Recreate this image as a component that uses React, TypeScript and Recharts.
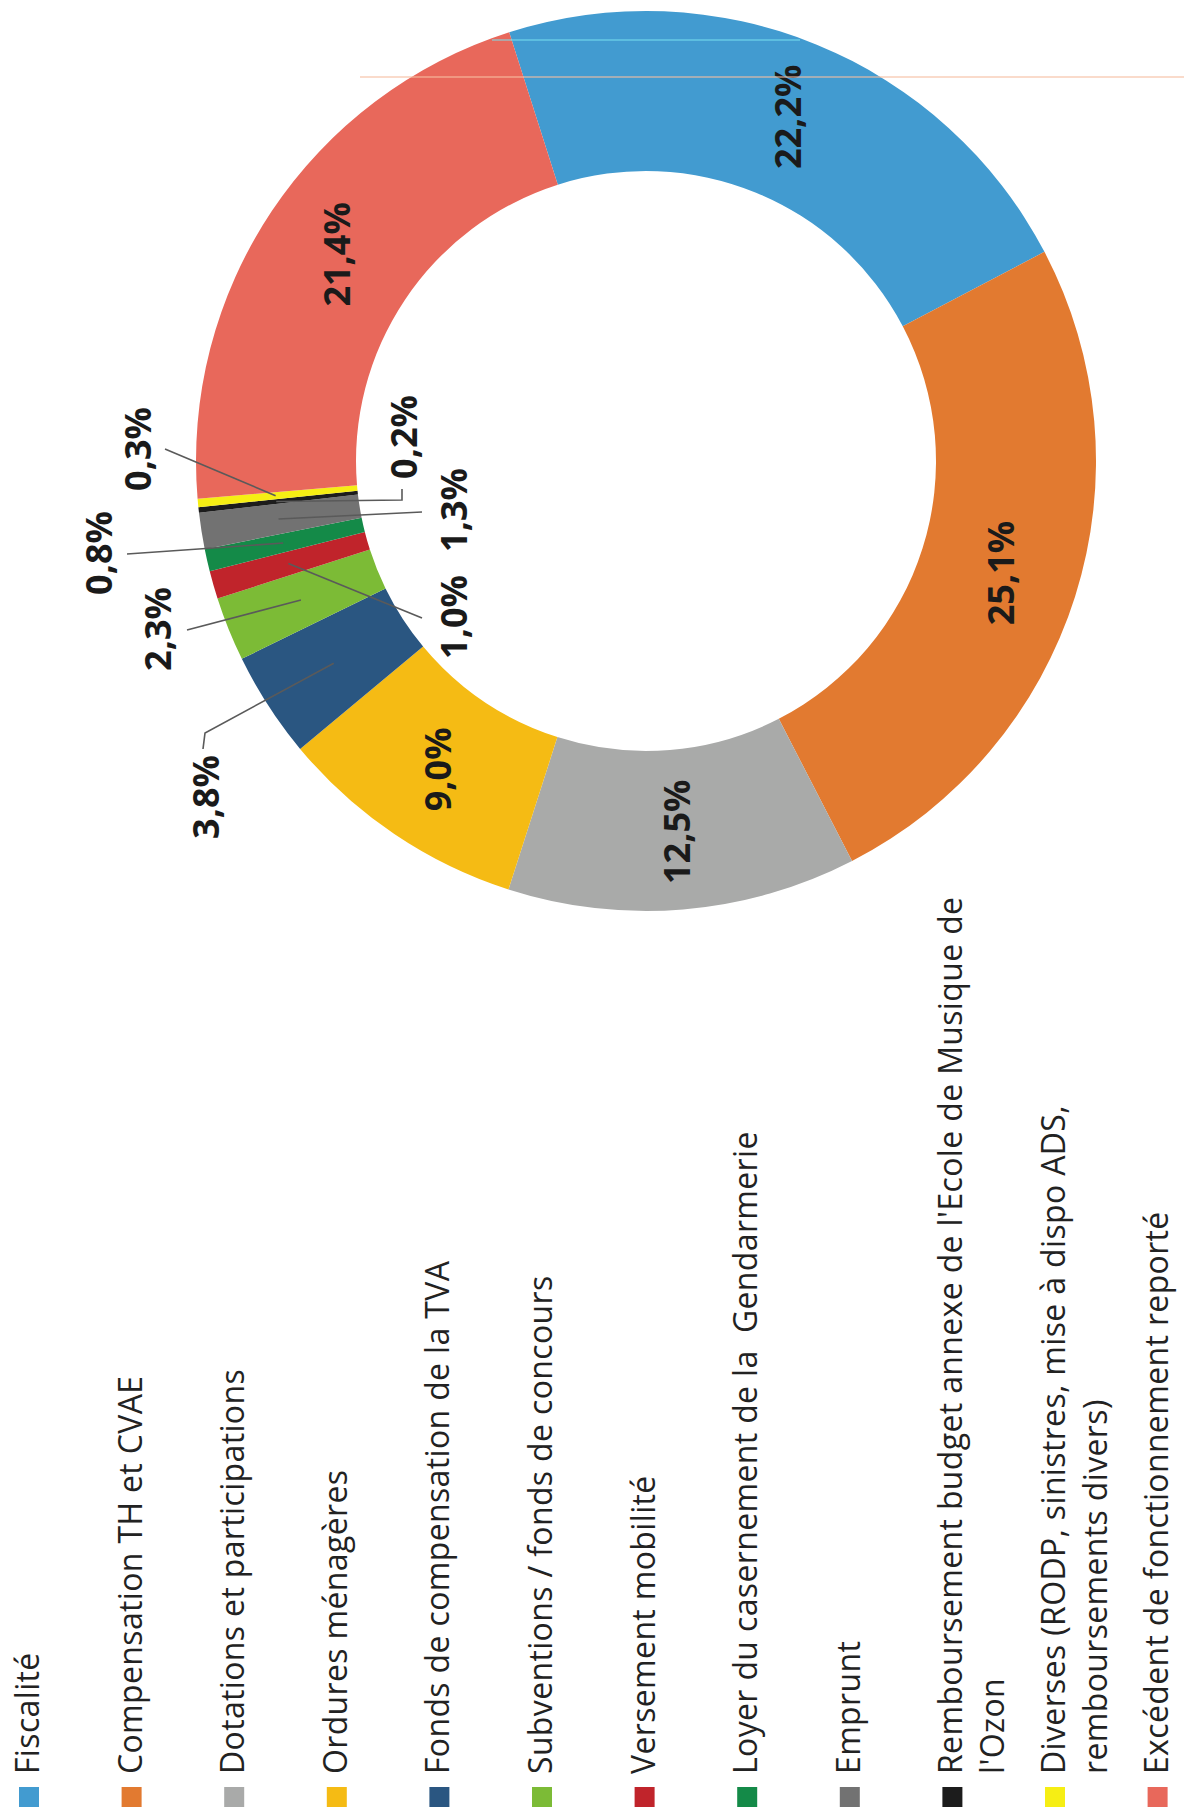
import React from 'react';
import { PieChart, Pie, Cell, Legend } from 'recharts';

// ---- data ----
const categories: string[] = [
  'Fiscalité',
  'Compensation TH et CVAE',
  'Dotations et participations',
  'Ordures ménagères',
  'Fonds de compensation de la TVA',
  'Subventions / fonds de concours',
  'Versement mobilité',
  'Loyer du casernement de la  Gendarmerie',
  'Emprunt',
  "Remboursement budget annexe de l'Ecole de Musique de\nl'Ozon",
  'Diverses (RODP, sinistres, mise à dispo ADS,\nremboursements divers)',
  'Excédent de fonctionnement reporté',
];
const shares: number[] = [22.2, 25.1, 12.5, 9.0, 3.8, 2.3, 1.0, 0.8, 1.3, 0.2, 0.3, 21.4];

// ---- styles ----
const colors: string[] = [
  '#429bd0', '#e27a30', '#a9aaa9', '#f5bb14', '#2a5681', '#7cbb36',
  '#c0242b', '#148a48', '#727272', '#1c1c1c', '#f6ee14', '#e8685b',
];

// leader-line label layout for small slices (offsets from the pie centre)
type LabelLayout = { line: number[][]; text: number[] } | null;
const labelLayout: LabelLayout[] = [
  null, null, null, null,
  { line: [[-441, 272], [-443, 288]], text: [-441, 336] },
  { line: [[-459, 169]], text: [-489, 168] },
  { line: [[-224, 157]], text: [-193, 156] },
  { line: [[-519, 93]], text: [-548, 92] },
  { line: [[-224, 51]], text: [-193, 49] },
  { line: [[-244, 39], [-244, 28]], text: [-243, -24] },
  { line: [[-481, -12]], text: [-509, -12] },
  null,
];

const W = 1184;
const H = 1819;
const CX = 646;
const CY = 461;
const INNER = 290;
const OUTER = 450;
const START = 107.7;
const RAD = Math.PI / 180;

const data = categories.map((name, i) => ({ name, value: shares[i] }));

const fmt = (v: number) => v.toFixed(1).replace('.', ',') + '%';

const LABEL_FONT = '"Open Sans", "DejaVu Sans", sans-serif';

const renderLabel = (props: any) => {
  const { cx, cy, midAngle, index } = props;
  const layout = labelLayout[index];
  const text = fmt(shares[index]);
  const rMid = (INNER + OUTER) / 2 + 2;
  const ax = cx + rMid * Math.cos(-midAngle * RAD);
  const ay = cy + rMid * Math.sin(-midAngle * RAD);
  if (!layout) {
    return (
      <text
        key={`lbl-${index}`}
        x={ax}
        y={ay}
        transform={`rotate(-90 ${ax} ${ay})`}
        textAnchor="middle"
        dominantBaseline="central"
        fontFamily={LABEL_FONT}
        fontWeight={700}
        fontSize={36}
        fill="#1a1a1a"
      >
        {text}
      </text>
    );
  }
  const pts = [[ax, ay], ...layout.line.map(([dx, dy]) => [cx + dx, cy + dy])];
  const tx = cx + layout.text[0];
  const ty = cy + layout.text[1];
  return (
    <g key={`lbl-${index}`}>
      <polyline
        points={pts.map((p) => p.join(',')).join(' ')}
        fill="none"
        stroke="#5a5a5a"
        strokeWidth={1.6}
      />
      <text
        x={tx}
        y={ty}
        transform={`rotate(-90 ${tx} ${ty})`}
        textAnchor="middle"
        dominantBaseline="central"
        fontFamily={LABEL_FONT}
        fontWeight={700}
        fontSize={36}
        fill="#1a1a1a"
      >
        {text}
      </text>
    </g>
  );
};

const LEG_X0 = 29;
const LEG_STEP = 102.6;
const LEG_TEXT_Y = 1774;
const LEG_SQ_Y = 1787;
const LEG_SQ = 20;
const LEG_LINE = 42;

const renderLegend = (props: any) => {
  const payload: any[] = props.payload || [];
  // keep the legend in the data order, whatever order the payload comes in
  const names: string[] = payload.length
    ? categories.filter((c) => payload.some((p: any) => String(p.value) === c))
    : categories;
  return (
    <svg
      width={W}
      height={H}
      style={{ position: 'absolute', left: 0, top: 0, overflow: 'visible', pointerEvents: 'none' }}
    >
      {/* faint scan streaks of the original page */}
      <line x1={492} y1={40} x2={800} y2={40} stroke="rgba(120,225,240,0.5)" strokeWidth={2} />
      <line x1={360} y1={77} x2={W} y2={77} stroke="rgba(245,190,160,0.55)" strokeWidth={2} />
      {names.map((name: string) => {
        const i = categories.indexOf(name);
        const c = LEG_X0 + LEG_STEP * i;
        const lines = name.split('\n');
        const color = colors[i];
        return (
          <g key={`leg-${i}`}>
            <rect x={c - LEG_SQ / 2} y={LEG_SQ_Y} width={LEG_SQ} height={LEG_SQ} fill={color} />
            {lines.map((ln, j) => {
              const bx = c + 10 + j * LEG_LINE;
              return (
                <text
                  key={j}
                  x={bx}
                  y={LEG_TEXT_Y}
                  transform={`rotate(-90 ${bx} ${LEG_TEXT_Y})`}
                  textAnchor="start"
                  fontFamily={LABEL_FONT}
                  fontSize={32}
                  letterSpacing={0.35}
                  fill="#222"
                  style={{ whiteSpace: 'pre' }}
                >
                  {ln}
                </text>
              );
            })}
          </g>
        );
      })}
    </svg>
  );
};

export default function App() {
  return (
    <div style={{ position: 'absolute', left: 0, top: 0, width: W, height: H, background: '#fff' }}>
      <PieChart width={W} height={H} margin={{ top: 0, right: 0, bottom: 0, left: 0 }}>
        <Pie
          data={data}
          dataKey="value"
          nameKey="name"
          cx={CX}
          cy={CY}
          innerRadius={INNER}
          outerRadius={OUTER}
          startAngle={START}
          endAngle={START - 360}
          stroke="none"
          isAnimationActive={false}
          label={renderLabel}
          labelLine={false}
        >
          {data.map((d, i) => (
            <Cell key={d.name} fill={colors[i]} />
          ))}
        </Pie>
        <Legend
          content={renderLegend}
          wrapperStyle={{ position: 'absolute', left: 0, top: 0, width: 0, height: 0, overflow: 'visible' }}
        />
      </PieChart>
    </div>
  );
}
